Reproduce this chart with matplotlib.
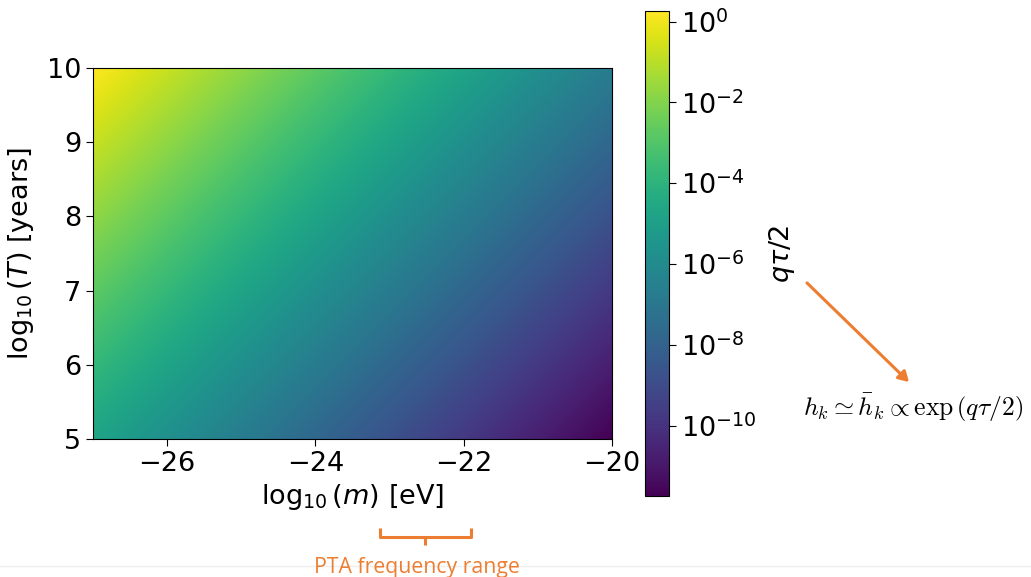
import numpy as np
import matplotlib
matplotlib.use("Agg")
import matplotlib.pyplot as plt
from matplotlib.colors import LogNorm, Normalize
from matplotlib.cm import ScalarMappable
from matplotlib.lines import Line2D

# grid nodes (log10 m [eV], log10 T [years])
log_m = [-27, -26, -25, -24, -23, -22, -21, -20]
log_T = [10, 9, 8, 7, 6, 5]
# log10(q tau / 2) read at the grid nodes (rows: log_T, cols: log_m)
log_qtau = [
    [0.26, -0.74, -1.74, -2.74, -3.74, -4.74, -5.74, -6.74],
    [-0.74, -1.74, -2.74, -3.74, -4.74, -5.74, -6.74, -7.74],
    [-1.74, -2.74, -3.74, -4.74, -5.74, -6.74, -7.74, -8.74],
    [-2.74, -3.74, -4.74, -5.74, -6.74, -7.74, -8.74, -9.74],
    [-3.74, -4.74, -5.74, -6.74, -7.74, -8.74, -9.74, -10.74],
    [-4.74, -5.74, -6.74, -7.74, -8.74, -9.74, -10.74, -11.74],
]
cbar_ticks = [1e0, 1e-2, 1e-4, 1e-6, 1e-8, 1e-10]

W, H = 1031, 577
fig = plt.figure(figsize=(W / 100, H / 100), dpi=100)

def fx(px):
    return px / W

def fy(py):
    return 1 - py / H

ax = fig.add_axes([fx(93), fy(439), fx(612) - fx(93), fy(68) - fy(439)])
data = np.array(log_qtau)
lo, hi = data.min(), data.max()
dx = (log_m[1] - log_m[0]) / 2
dy = (log_T[0] - log_T[1]) / 2
ax.imshow(data, cmap="viridis", norm=Normalize(lo, hi), aspect="auto",
          interpolation="bilinear", interpolation_stage="data",
          extent=[log_m[0] - dx, log_m[-1] + dx, log_T[-1] - dy, log_T[0] + dy],
          origin="upper")
ax.set_xlim(log_m[0], log_m[-1])
ax.set_ylim(log_T[-1], log_T[0])
ax.set_xticks([-26, -24, -22, -20])
ax.set_yticks([5, 6, 7, 8, 9, 10])
ax.tick_params(labelsize=19.5, length=5)
ax.set_xlabel(r"$\log_{10}(m)$ [eV]", fontsize=19.5, labelpad=4)
ax.set_ylabel(r"$\log_{10}(T)$ [years]", fontsize=19.5, labelpad=8)

cax = fig.add_axes([fx(645), fy(496), fx(669) - fx(645), fy(11) - fy(496)])
sm = ScalarMappable(norm=LogNorm(10 ** lo, 10 ** hi), cmap="viridis")
cb = fig.colorbar(sm, cax=cax)
cb.set_ticks(cbar_ticks)
cax.minorticks_off()
cax.tick_params(labelsize=19.5, length=5)
cb.set_label(r"$q\tau/2$", fontsize=19.5, labelpad=8)

orange = "#ED7D31"
# arrow to formula
fig.patches.append(matplotlib.patches.FancyArrowPatch(
    (fx(805), fy(281)), (fx(911), fy(384)), transform=fig.transFigure,
    arrowstyle="-|>,head_length=6,head_width=3.5", color=orange, lw=2.2,
    mutation_scale=1))
fig.text(fx(913), fy(408), r"$h_k \simeq \bar{h}_k \propto \exp\left(q\tau/2\right)$",
         fontsize=18.5, ha="center", va="center", math_fontfamily="cm")

# bracket under the x axis
lw = 2.2
for xs, ys in [([380, 380, 471, 471], [528, 537, 537, 528]),
               ([425, 425], [537, 545])]:
    fig.add_artist(Line2D([fx(x) for x in xs], [fy(y) for y in ys],
                          color=orange, lw=lw, transform=fig.transFigure,
                          solid_joinstyle="round", solid_capstyle="butt"))
fig.add_artist(Line2D([0, 1], [fy(566), fy(566)], color="#efefef", lw=1,
                      transform=fig.transFigure))
fig.text(fx(417), fy(567), "PTA frequency range", color=orange,
         fontsize=15.3, family="Open Sans", ha="center", va="center")

fig.savefig("out.png", dpi=100)
